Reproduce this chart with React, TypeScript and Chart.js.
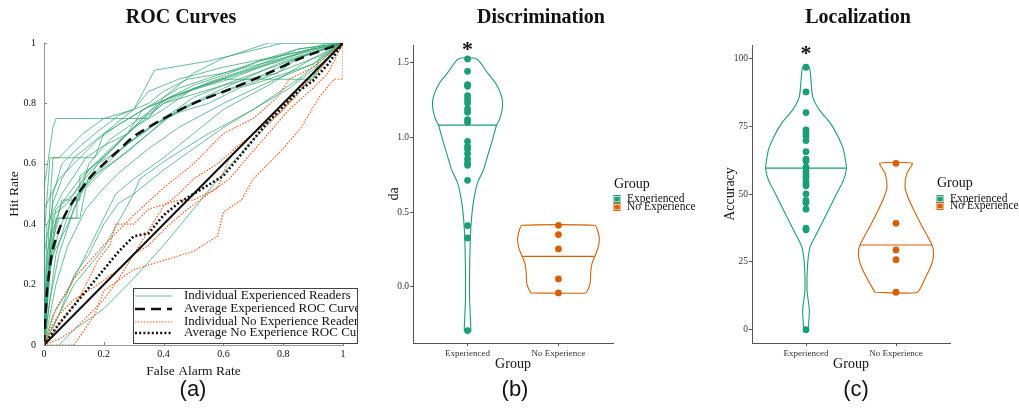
import React, { useEffect, useRef } from 'react';
import { Chart, registerables } from 'chart.js';

Chart.register(...registerables);

const SERIF = '"Liberation Serif", "Times New Roman", serif';
const SANS = '"Liberation Sans", Arial, sans-serif';
const GREEN = '#1b9e77';
const ORANGE = '#d95f02';
const ROC_GREEN = 'rgba(45,165,110,0.72)';
const ROC_ORANGE = '#ea5f24';

// ---------- Panel (a): ROC curves [false alarm rate, hit rate] ----------
const rocExperienced: number[][][] = [
  [[0,0],[0,0.52],[0.03,0.72],[0.04,0.75],[0.35,0.75],[0.4,0.82],[0.5,0.9],[0.6,0.95],[0.75,1],[1,1]],
  [[0,0],[0.02,0.47],[0.03,0.62],[0.17,0.62],[0.2,0.7],[0.3,0.78],[0.37,0.91],[0.55,0.94],[0.8,1],[1,1]],
  [[0,0],[0,0.3],[0.03,0.47],[0.06,0.55],[0.1,0.62],[0.2,0.7],[0.3,0.76],[0.45,0.85],[0.6,0.9],[0.8,0.95],[0.95,1],[1,1]],
  [[0,0],[0.01,0.2],[0.04,0.4],[0.06,0.48],[0.12,0.48],[0.12,0.56],[0.2,0.62],[0.28,0.7],[0.4,0.8],[0.55,0.87],[0.7,0.92],[0.85,0.98],[1,1]],
  [[0,0],[0.03,0.35],[0.05,0.42],[0.11,0.42],[0.11,0.5],[0.18,0.57],[0.25,0.62],[0.35,0.7],[0.45,0.78],[0.6,0.85],[0.78,0.93],[1,1]],
  [[0,0],[0.02,0.28],[0.08,0.4],[0.12,0.5],[0.15,0.6],[0.22,0.68],[0.32,0.75],[0.42,0.82],[0.53,0.86],[0.65,0.9],[0.8,0.95],[1,1]],
  [[0,0],[0.03,0.43],[0.08,0.47],[0.15,0.58],[0.24,0.66],[0.3,0.72],[0.38,0.8],[0.48,0.84],[0.62,0.88],[0.75,0.93],[0.9,0.98],[1,1]],
  [[0,0],[0,0.45],[0.05,0.55],[0.1,0.6],[0.18,0.68],[0.25,0.73],[0.35,0.79],[0.45,0.83],[0.6,0.88],[0.72,0.92],[0.9,0.97],[1,1]],
  [[0,0],[0.02,0.15],[0.05,0.3],[0.1,0.45],[0.15,0.55],[0.22,0.62],[0.3,0.68],[0.4,0.75],[0.5,0.82],[0.65,0.88],[0.85,0.95],[1,1]],
  [[0,0],[0.04,0.2],[0.08,0.33],[0.14,0.45],[0.2,0.52],[0.25,0.57],[0.35,0.65],[0.45,0.72],[0.6,0.8],[0.75,0.87],[0.9,0.93],[1,1]],
  [[0,0],[0.05,0.1],[0.1,0.23],[0.15,0.3],[0.2,0.4],[0.25,0.47],[0.3,0.5],[0.4,0.58],[0.5,0.65],[0.6,0.72],[0.7,0.78],[0.82,0.85],[0.95,0.95],[1,1]],
  [[0,0],[0.1,0.2],[0.2,0.32],[0.3,0.5],[0.32,0.55],[0.42,0.62],[0.55,0.7],[0.7,0.78],[0.85,0.88],[1,1]],
  [[0.05,0],[0.1,0.05],[0.2,0.12],[0.3,0.22],[0.4,0.33],[0.5,0.45],[0.6,0.57],[0.7,0.68],[0.8,0.78],[0.9,0.89],[1,1]],
  [[0,0],[0.03,0.1],[0.08,0.18],[0.14,0.3],[0.2,0.42],[0.24,0.5],[0.3,0.55],[0.4,0.62],[0.5,0.7],[0.6,0.78],[0.75,0.86],[0.9,0.95],[1,1]],
  [[0,0],[0,0.35],[0.02,0.62],[0.05,0.62],[0.08,0.65],[0.13,0.7],[0.2,0.75],[0.3,0.78],[0.35,0.84],[0.45,0.88],[0.6,0.92],[0.8,0.96],[1,1]],
  [[0,0],[0.01,0.3],[0.04,0.45],[0.1,0.5],[0.16,0.58],[0.22,0.64],[0.28,0.7],[0.33,0.75],[0.4,0.8],[0.5,0.83],[0.6,0.86],[0.68,0.88],[0.78,0.9],[0.85,0.95],[1,1]],
  [[0,0],[0.02,0.25],[0.05,0.38],[0.08,0.45],[0.13,0.52],[0.18,0.6],[0.26,0.65],[0.3,0.68],[0.37,0.73],[0.45,0.77],[0.55,0.8],[0.65,0.85],[0.75,0.88],[0.9,0.93],[1,1]],
  [[0,0],[0.01,0.4],[0.06,0.5],[0.1,0.56],[0.14,0.62],[0.2,0.66],[0.28,0.7],[0.33,0.78],[0.38,0.8],[0.5,0.86],[0.62,0.9],[0.72,0.94],[0.85,0.97],[1,1]],
  [[0,0],[0.02,0.15],[0.04,0.3],[0.07,0.4],[0.1,0.48],[0.16,0.55],[0.21,0.6],[0.27,0.66],[0.35,0.72],[0.5,0.8],[0.6,0.84],[0.7,0.87],[0.8,0.91],[0.93,0.96],[1,1]],
  [[0,0],[0.02,0.35],[0.06,0.47],[0.12,0.55],[0.2,0.63],[0.3,0.72],[0.4,0.78],[0.5,0.85],[0.6,0.88],[0.9,0.88],[0.92,0.95],[1,1]],
  [[0,0],[0.03,0.5],[0.06,0.6],[0.1,0.64],[0.17,0.7],[0.25,0.76],[0.35,0.8],[0.4,0.84],[0.48,0.88],[0.6,0.9],[0.75,0.95],[0.85,0.98],[1,1]],
  [[0,0],[0.02,0.3],[0.04,0.42],[0.12,0.42],[0.14,0.52],[0.2,0.58],[0.28,0.64],[0.35,0.7],[0.42,0.76],[0.55,0.82],[0.7,0.88],[0.85,0.95],[1,1]],
];

const rocNoExperience: number[][][] = [
  [[0,0],[0.04,0.12],[0.1,0.22],[0.2,0.33],[0.3,0.43],[0.4,0.52],[0.5,0.6],[0.55,0.65],[0.6,0.7],[0.7,0.75],[0.78,0.82],[0.82,0.88],[0.9,0.92],[1,1]],
  [[0,0],[0.06,0.08],[0.12,0.16],[0.18,0.28],[0.22,0.33],[0.24,0.4],[0.3,0.4],[0.35,0.45],[0.45,0.48],[0.5,0.48],[0.58,0.52],[0.62,0.62],[0.7,0.7],[0.78,0.76],[0.84,0.82],[0.9,0.9],[1,1]],
  [[0,0],[0.1,0],[0.17,0.1],[0.2,0.18],[0.3,0.25],[0.4,0.28],[0.5,0.31],[0.58,0.36],[0.6,0.44],[0.66,0.48],[0.7,0.55],[0.8,0.65],[0.86,0.72],[0.92,0.82],[0.97,0.88],[1,0.88],[1,1]],
  [[0,0],[0.05,0.02],[0.1,0.05],[0.15,0.1],[0.2,0.15],[0.25,0.22],[0.3,0.3],[0.35,0.38],[0.4,0.46],[0.45,0.5],[0.5,0.55],[0.58,0.6],[0.65,0.66],[0.7,0.7],[0.8,0.78],[0.85,0.85],[0.9,0.88],[0.95,0.95],[1,1]],
  [[0,0],[0.02,0.05],[0.05,0.1],[0.1,0.15],[0.18,0.2],[0.25,0.25],[0.3,0.3],[0.35,0.33],[0.42,0.4],[0.48,0.45],[0.55,0.5],[0.62,0.55],[0.68,0.62],[0.75,0.7],[0.82,0.78],[0.9,0.85],[0.95,0.9],[1,1]],
];

const rocAvgExperienced: number[][] = [
  [0,0],[0.005,0.1],[0.01,0.18],[0.02,0.26],[0.03,0.32],[0.05,0.38],[0.07,0.43],[0.1,0.48],[0.15,0.55],
  [0.2,0.6],[0.25,0.645],[0.3,0.69],[0.4,0.75],[0.5,0.8],[0.63,0.85],[0.75,0.9],[0.86,0.95],[1,1],
];
const rocAvgNoExperience: number[][] = [
  [0,0],[0.05,0.07],[0.1,0.13],[0.15,0.19],[0.2,0.25],[0.25,0.31],[0.3,0.36],[0.35,0.37],[0.4,0.43],
  [0.45,0.47],[0.5,0.5],[0.55,0.53],[0.6,0.56],[0.65,0.62],[0.7,0.68],[0.75,0.74],[0.8,0.79],
  [0.85,0.84],[0.9,0.875],[0.95,0.93],[1,1],
];
const rocChance: number[][] = [[0,0],[1,1]];
const rocTicks = [0, 0.2, 0.4, 0.6, 0.8, 1];
const rocLegend = [
  'Individual Experienced Readers',
  'Average Experienced ROC Curve',
  'Individual No Experience Readers',
  'Average No Experience ROC Curve',
];

// ---------- Panels (b) and (c) ----------
const groups = ['Experienced', 'No Experience'];

const daExperienced = [1.527,1.444,1.355,1.344,1.281,1.255,1.232,1.192,1.17,1.121,1.103,0.975,0.942,0.924,0.893,0.857,0.83,0.815,0.714,0.411,0.328,-0.292];
const daNoExperience = [0.413,0.351,0.255,0.054,-0.04];
const daExpProfileY = [-0.296,-0.274,-0.196,-0.062,0.161,0.385,0.563,0.697,0.786,0.875,0.987,1.083,1.121,1.21,1.277,1.366,1.433,1.527];
const daExpProfileW = [0.035,0.036,0.03,0.022,0.024,0.035,0.063,0.11,0.176,0.22,0.275,0.319,0.352,0.385,0.374,0.308,0.22,0.102];
const daNoProfileY = [-0.04,-0.01,0.03,0.1,0.16,0.205,0.26,0.32,0.38,0.413];
const daNoProfileW = [0.3,0.33,0.35,0.355,0.37,0.4,0.435,0.45,0.43,0.4];
const daMedians = [1.083, 0.205];
const daMedianW = [0.319, 0.4];
const daTicks = [0, 0.5, 1, 1.5];

const accExperienced = [96.7,87.6,80,73.6,72.6,71.4,69.7,65.6,62.8,62.2,59.9,58.6,57.4,56.2,54.6,53.7,53,50.05,47.6,46.8,44.4,37.4,36.8,0];
const accNoExperience = [61.3,39.2,29.4,25.8,13.8];
const accExpProfileY = [0,2.5,7.4,14.7,24.5,30.7,36.8,42.9,49.1,55.2,59.5,61.3,66.2,71.2,76.1,81,85.9,92,96.7];
const accExpProfileW = [0.02,0.03,0.037,0.011,0.019,0.048,0.14,0.233,0.325,0.418,0.45,0.444,0.418,0.355,0.27,0.148,0.074,0.055,0.037];
const accNoProfileY = [13.8,19.6,24.5,28.2,31.2,36.8,42.9,49.1,52.8,57.7,61.3];
const accNoProfileW = [0.235,0.333,0.4,0.418,0.4,0.31,0.215,0.13,0.1,0.122,0.18];
const accMedians = [59.5, 31.2];
const accMedianW = [0.45, 0.4];
const accTicks = [0, 25, 50, 75, 100];

// ---------- helpers ----------
const pts = (arr: number[][]) => arr.map(([x, y]) => ({ x, y }));

function lineDs(data: { x: number; y: number }[], color: string, width: number, dash: number[] = [], tension = 0) {
  return {
    data, showLine: true, borderColor: color, backgroundColor: color, borderWidth: width,
    borderDash: dash, pointRadius: 0, fill: false, tension,
  };
}

function violinPoints(center: number, ys: number[], ws: number[]) {
  const left = ys.map((y, i) => ({ x: center - ws[i], y }));
  const right = ys.map((y, i) => ({ x: center + ws[i], y })).reverse();
  return [...left, ...right, left[0]];
}

type TextItem = { text: string; x: number; y: number; font: string; color?: string; align?: CanvasTextAlign };

function drawTexts(ctx: CanvasRenderingContext2D, items: TextItem[]) {
  for (const t of items) {
    ctx.save();
    ctx.font = t.font;
    ctx.fillStyle = t.color || '#111';
    ctx.textAlign = t.align || 'center';
    ctx.textBaseline = 'middle';
    ctx.fillText(t.text, t.x, t.y);
    ctx.restore();
  }
}

function groupLegend(ctx: CanvasRenderingContext2D, x: number, titleY: number, rowsY: number[], labelX: number) {
  drawTexts(ctx, [{ text: 'Group', x, y: titleY, font: `14px ${SERIF}`, color: '#111', align: 'left' }]);
  const colors = [GREEN, ORANGE];
  groups.forEach((g, i) => {
    const cy = rowsY[i];
    const cx = x + 3;
    ctx.save();
    ctx.strokeStyle = colors[i];
    ctx.lineWidth = 1;
    ctx.fillStyle = '#fff';
    ctx.fillRect(cx - 3, cy - 3.5, 6, 7);
    ctx.strokeRect(cx - 3, cy - 3.5, 6, 7);
    ctx.fillStyle = colors[i];
    ctx.beginPath();
    ctx.arc(cx, cy, 2.6, 0, Math.PI * 2);
    ctx.fill();
    ctx.restore();
    drawTexts(ctx, [{ text: g, x: labelX, y: cy, font: `11.5px ${SERIF}`, color: '#111', align: 'left' }]);
  });
}

function asterisk(chart: any, xv: number, yv: number) {
  const ctx = chart.ctx;
  const px = chart.scales.x.getPixelForValue(xv);
  const py = chart.scales.y.getPixelForValue(yv);
  ctx.save();
  ctx.font = `bold 22px ${SERIF}`;
  ctx.fillStyle = '#111';
  ctx.textAlign = 'center';
  ctx.textBaseline = 'alphabetic';
  ctx.fillText('*', px, py + 10);
  ctx.restore();
}

function fixedTicks(values: number[]) {
  return (scale: any) => {
    scale.ticks = values.map((v) => ({ value: v }));
  };
}

// ---------- chart configs ----------
function configA(): any {
  const datasets: any[] = [];
  datasets.push(lineDs(pts(rocAvgExperienced), '#111', 2.5, [10, 6], 0.3));
  datasets.push(lineDs(pts(rocAvgNoExperience), '#111', 2.6, [2, 2.2]));
  datasets.push(lineDs(pts(rocChance), '#111', 2));
  rocNoExperience.forEach((c) => datasets.push(lineDs(pts(c), ROC_ORANGE, 1.2, [1.5, 1.5])));
  rocExperienced.forEach((c) => datasets.push(lineDs(pts(c), ROC_GREEN, 1)));

  const decor = {
    id: 'decorA',
    afterDraw(chart: any) {
      const ctx = chart.ctx;
      const xs = chart.scales.x;
      const ys = chart.scales.y;
      // inward tick marks
      ctx.save();
      ctx.strokeStyle = '#888';
      ctx.lineWidth = 1;
      rocTicks.forEach((v) => {
        const px = Math.round(xs.getPixelForValue(v)) + 0.5;
        ctx.beginPath(); ctx.moveTo(px, ys.bottom); ctx.lineTo(px, ys.bottom - 3); ctx.stroke();
        const py = Math.round(ys.getPixelForValue(v)) + 0.5;
        ctx.beginPath(); ctx.moveTo(xs.left, py); ctx.lineTo(xs.left + 3, py); ctx.stroke();
      });
      ctx.restore();
      // legend box
      const bx = 133, by = 288, bw = 224, bh = 55;
      ctx.save();
      ctx.fillStyle = '#fff';
      ctx.fillRect(bx, by, bw, bh);
      const rows = [296, 309, 322, 333];
      const styles = [
        { c: ROC_GREEN, w: 1, d: [] as number[] },
        { c: '#111', w: 2.5, d: [10, 6] },
        { c: ROC_ORANGE, w: 1.2, d: [1.5, 1.5] },
        { c: '#111', w: 2.6, d: [2, 2.2] },
      ];
      rows.forEach((ry, i) => {
        ctx.strokeStyle = styles[i].c;
        ctx.lineWidth = styles[i].w;
        ctx.setLineDash(styles[i].d);
        ctx.beginPath(); ctx.moveTo(135, ry); ctx.lineTo(172, ry); ctx.stroke();
      });
      ctx.setLineDash([]);
      ctx.beginPath();
      ctx.rect(bx, by, bw, bh);
      ctx.clip();
      drawTexts(ctx, rocLegend.map((t, i) => ({ text: t, x: 184, y: rows[i], font: `13px ${SERIF}`, align: 'left' as CanvasTextAlign })));
      ctx.restore();
      ctx.save();
      ctx.strokeStyle = '#444';
      ctx.lineWidth = 1;
      ctx.strokeRect(bx + 0.5, by + 0.5, bw, bh);
      ctx.restore();
      drawTexts(ctx, [
        { text: 'ROC Curves', x: 181, y: 18, font: `bold 20px ${SERIF}` },
        { text: '(a)', x: 193, y: 390, font: `22px ${SANS}` },
      ]);
    },
  };

  return {
    type: 'scatter',
    data: { datasets },
    options: {
      animation: false, responsive: false, maintainAspectRatio: false,
      layout: { padding: { left: 0, right: 29, top: 43, bottom: 30 } },
      plugins: { legend: { display: false }, tooltip: { enabled: false } },
      scales: {
        x: {
          type: 'linear', min: 0, max: 1,
          afterBuildTicks: fixedTicks(rocTicks),
          afterFit: (s: any) => { s.height = 36; },
          grid: { display: false, drawTicks: false },
          border: { display: true, color: '#999', width: 1 },
          ticks: { padding: 3, color: '#111', font: { family: SERIF, size: 10 }, callback: (v: number) => String(+v.toFixed(1)) },
          title: { display: true, text: 'False Alarm Rate', color: '#111', font: { family: SERIF, size: 13.5 }, padding: { top: 0, bottom: 1.6 } },
        },
        y: {
          type: 'linear', min: 0, max: 1,
          afterBuildTicks: fixedTicks(rocTicks),
          afterFit: (s: any) => { s.width = 44; },
          grid: { display: false, drawTicks: false },
          border: { display: true, color: '#999', width: 1 },
          ticks: { padding: 8, color: '#111', font: { family: SERIF, size: 10 }, callback: (v: number) => String(+v.toFixed(1)) },
          title: { display: true, text: 'Hit Rate', color: '#111', font: { family: SERIF, size: 13.5 }, padding: { top: 6.6, bottom: 0 } },
        },
      },
    },
    plugins: [decor],
  };
}

function configViolin(opts: {
  exp: number[]; no: number[];
  expY: number[]; expW: number[]; noY: number[]; noW: number[];
  medians: number[]; medianW: number[];
  yMin: number; yMax: number; yTicks: number[]; tickFmt: (v: number) => string;
  yTitle: string; yTitlePad: number; yWidth: number; padRight: number;
  title: string; titleX: number; tag: string; tagX: number;
  starY: number; legendX: number; legendTitleY: number; legendRows: number[];
}): any {
  const datasets: any[] = [];
  datasets.push({ data: opts.exp.map((y) => ({ x: 1, y })), pointRadius: 3.4, pointBackgroundColor: GREEN, pointBorderColor: GREEN, pointBorderWidth: 0, showLine: false });
  datasets.push({ data: opts.no.map((y) => ({ x: 2, y })), pointRadius: 3.4, pointBackgroundColor: ORANGE, pointBorderColor: ORANGE, pointBorderWidth: 0, showLine: false });
  datasets.push(lineDs([{ x: 1 - opts.medianW[0], y: opts.medians[0] }, { x: 1 + opts.medianW[0], y: opts.medians[0] }], GREEN, 1.2));
  datasets.push(lineDs([{ x: 2 - opts.medianW[1], y: opts.medians[1] }, { x: 2 + opts.medianW[1], y: opts.medians[1] }], ORANGE, 1.2));
  datasets.push(lineDs(violinPoints(1, opts.expY, opts.expW), GREEN, 1.1, [], 0.2));
  datasets.push(lineDs(violinPoints(2, opts.noY, opts.noW), ORANGE, 1.1, [], 0.2));

  const decor = {
    id: 'decorViolin',
    afterDraw(chart: any) {
      const ctx = chart.ctx;
      asterisk(chart, 1, opts.starY);
      groupLegend(ctx, opts.legendX, opts.legendTitleY, opts.legendRows, opts.legendX + 13);
      drawTexts(ctx, [
        { text: opts.title, x: opts.titleX, y: 18, font: `bold 20px ${SERIF}` },
        { text: opts.tag, x: opts.tagX, y: 390, font: `22px ${SANS}` },
      ]);
    },
  };

  return {
    type: 'scatter',
    data: { datasets },
    options: {
      animation: false, responsive: false, maintainAspectRatio: false,
      layout: { padding: { left: 0, right: opts.padRight, top: 45, bottom: 36 } },
      plugins: { legend: { display: false }, tooltip: { enabled: false } },
      scales: {
        x: {
          type: 'linear', min: 0.4, max: 2.6,
          afterBuildTicks: fixedTicks([1, 2]),
          afterFit: (s: any) => { s.height = 32; },
          grid: { display: true, drawOnChartArea: false, drawTicks: true, tickLength: 3, color: '#555' },
          border: { display: true, color: '#555', width: 1 },
          ticks: { padding: 2, color: '#333', font: { family: SERIF, size: 9 }, callback: (v: number) => groups[Math.round(v) - 1] },
          title: { display: true, text: 'Group', color: '#111', font: { family: SERIF, size: 14 }, padding: { top: 0, bottom: 2.6 } },
        },
        y: {
          type: 'linear', min: opts.yMin, max: opts.yMax,
          afterBuildTicks: fixedTicks(opts.yTicks),
          afterFit: (s: any) => { s.width = opts.yWidth; },
          grid: { display: true, drawOnChartArea: false, drawTicks: true, tickLength: 3, color: '#555' },
          border: { display: true, color: '#555', width: 1 },
          ticks: { padding: 1, color: '#333', font: { family: SERIF, size: 9.5 }, callback: opts.tickFmt },
          title: { display: true, text: opts.yTitle, color: '#111', font: { family: SERIF, size: 14 }, padding: { top: opts.yTitlePad, bottom: 0 } },
        },
      },
    },
    plugins: [decor],
  };
}

function ChartCanvas({ left, width, make }: { left: number; width: number; make: () => any }) {
  const ref = useRef<HTMLCanvasElement | null>(null);
  useEffect(() => {
    if (!ref.current) return;
    const chart = new Chart(ref.current, make());
    return () => chart.destroy();
  }, []);
  return (
    <canvas
      ref={ref}
      width={width}
      height={411}
      style={{ position: 'absolute', left, top: 0, width, height: 411, display: 'block' }}
    />
  );
}

export default function App() {
  return (
    <div style={{ position: 'absolute', left: 0, top: 0, width: 1019, height: 411, background: '#fff', overflow: 'hidden' }}>
      <ChartCanvas left={0} width={372} make={configA} />
      <ChartCanvas
        left={380}
        width={320}
        make={() => configViolin({
          exp: daExperienced, no: daNoExperience,
          expY: daExpProfileY, expW: daExpProfileW, noY: daNoProfileY, noW: daNoProfileW,
          medians: daMedians, medianW: daMedianW,
          yMin: -0.375, yMax: 1.62, yTicks: daTicks, tickFmt: (v: number) => v.toFixed(1),
          yTitle: 'da', yTitlePad: 5.6, yWidth: 33, padRight: 87,
          title: 'Discrimination', titleX: 161, tag: '(b)', tagX: 135,
          starY: 1.616, legendX: 234, legendTitleY: 184, legendRows: [199, 207],
        })}
      />
      <ChartCanvas
        left={700}
        width={319}
        make={() => configViolin({
          exp: accExperienced, no: accNoExperience,
          expY: accExpProfileY, expW: accExpProfileW, noY: accNoProfileY, noW: accNoProfileW,
          medians: accMedians, medianW: accMedianW,
          yMin: -4.9, yMax: 104.9, yTicks: accTicks, tickFmt: (v: number) => String(v),
          yTitle: 'Accuracy', yTitlePad: 21.6, yWidth: 52, padRight: 69,
          title: 'Localization', titleX: 158, tag: '(c)', tagX: 156,
          starY: 103, legendX: 237, legendTitleY: 183, legendRows: [199, 206],
        })}
      />
    </div>
  );
}
